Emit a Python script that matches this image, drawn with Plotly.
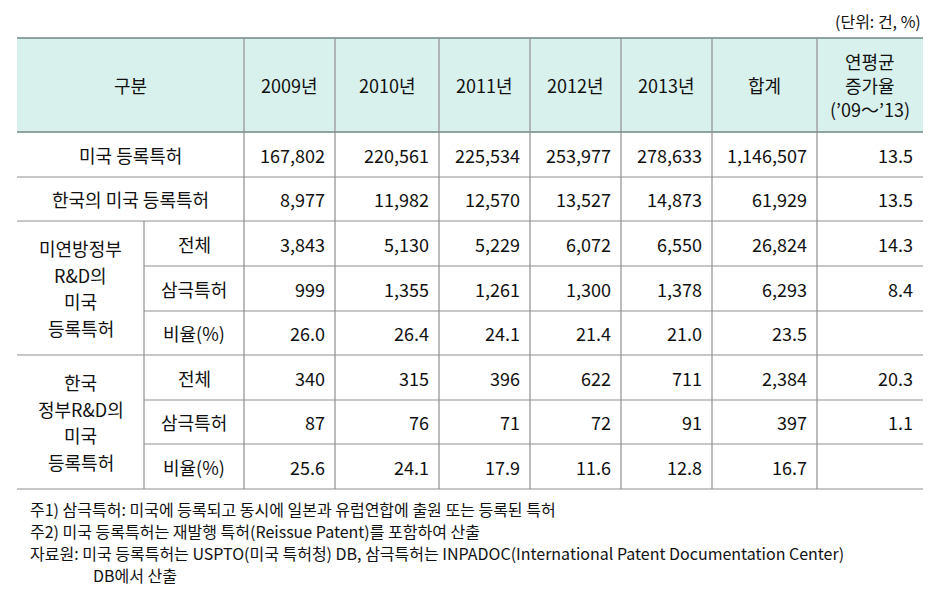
import plotly.graph_objects as go

# ---------------- data ----------------
header_labels = ["구분", "2009년", "2010년", "2011년", "2012년", "2013년", "합계", "연평균<br>증가율<br>(’09〜’13)"]
unit_label = "(단위: 건, %)"

row_labels = ["미국 등록특허", "한국의 미국 등록특허"]
group_labels = ["미연방정부<br>R&D의<br>미국<br>등록특허", "한국<br>정부R&D의<br>미국<br>등록특허"]
sub_labels = ["전체", "삼극특허", "비율(%)"]

us_patents = [167802, 220561, 225534, 253977, 278633]
us_patents_total = 1146507
us_patents_cagr = 13.5

kr_us_patents = [8977, 11982, 12570, 13527, 14873]
kr_us_patents_total = 61929
kr_us_patents_cagr = 13.5

usfed_total = [3843, 5130, 5229, 6072, 6550]
usfed_total_sum = 26824
usfed_total_cagr = 14.3
usfed_triadic = [999, 1355, 1261, 1300, 1378]
usfed_triadic_sum = 6293
usfed_triadic_cagr = 8.4
usfed_ratio = [26.0, 26.4, 24.1, 21.4, 21.0]
usfed_ratio_sum = 23.5

krgov_total = [340, 315, 396, 622, 711]
krgov_total_sum = 2384
krgov_total_cagr = 20.3
krgov_triadic = [87, 76, 71, 72, 91]
krgov_triadic_sum = 397
krgov_triadic_cagr = 1.1
krgov_ratio = [25.6, 24.1, 17.9, 11.6, 12.8]
krgov_ratio_sum = 16.7

notes = [
    "주1) 삼극특허: 미국에 등록되고 동시에 일본과 유럽연합에 출원 또는 등록된 특허",
    "주2) 미국 등록특허는 재발행 특허(Reissue Patent)를 포함하여 산출",
    "자료원: 미국 등록특허는 USPTO(미국 특허청) DB, 삼극특허는 INPADOC(International Patent Documentation Center)",
    "DB에서 산출",
]

# ---------------- layout geometry ----------------
# page body has an 8px margin: the figure is sized so that data coords equal page pixels
W, H = 947, 612
OFF = 8
FONT = "Noto Sans CJK KR, Noto Sans, sans-serif"
TXT = "#111111"
HEADER_FILL = "#d9f1ec"
LINE = "#8f8f8f"
DARK_LINE = "#6d8784"

col_x = [17, 144, 244, 335, 439, 530, 621, 712, 817, 923]  # boundaries
header_top, header_bot = 38, 132
row_y = [132, 177, 221, 266, 311, 355, 400, 444, 489]

fig = go.Figure()
shapes = []
ann = []


def line(x0, y0, x1, y1, color=LINE, w=1.2):
    shapes.append(dict(type="line", xref="x", yref="y", x0=x0, y0=y0, x1=x1, y1=y1,
                       line=dict(color=color, width=w)))


def text(x, y, s, anchor="center", size=18, color=TXT, yanchor="middle", align="center"):
    ann.append(dict(x=x, y=y, xref="x", yref="y", text=s, showarrow=False,
                    xanchor=anchor, yanchor=yanchor, align=align,
                    font=dict(family=FONT, size=size, color=color)))


# header background
shapes.append(dict(type="rect", xref="x", yref="y", x0=col_x[0], x1=col_x[-1],
                   y0=header_top, y1=header_bot, fillcolor=HEADER_FILL,
                   line=dict(width=0), layer="below"))

# horizontal lines
line(col_x[0], header_top, col_x[-1], header_top, DARK_LINE, 1.6)
line(col_x[0], header_bot, col_x[-1], header_bot, DARK_LINE, 1.4)
for i, y in enumerate(row_y[1:], start=1):
    if i in (3, 4, 6, 7):
        line(col_x[1], y, col_x[-1], y)
    else:
        line(col_x[0], y, col_x[-1], y)

# vertical lines
for x in col_x[2:-1]:
    line(x, header_top, x, row_y[-1])
line(col_x[1], row_y[2], col_x[1], row_y[-1])

# header text
header_centers = [(col_x[0] + col_x[2]) / 2] + [(col_x[i] + col_x[i + 1]) / 2 for i in range(2, 9)]
hc = (header_top + header_bot) / 2
for cx, lab in zip(header_centers, header_labels):
    parts = lab.split("<br>")
    lh = 24
    for k, p in enumerate(parts):
        text(cx, hc + (k - (len(parts) - 1) / 2) * lh, p)

text(923, 21, unit_label, anchor="right", size=16)


def fmt(v, dec):
    if v is None:
        return ""
    return f"{v:.1f}" if dec else f"{v:,}"


rows = [
    (us_patents, us_patents_total, us_patents_cagr, False),
    (kr_us_patents, kr_us_patents_total, kr_us_patents_cagr, False),
    (usfed_total, usfed_total_sum, usfed_total_cagr, False),
    (usfed_triadic, usfed_triadic_sum, usfed_triadic_cagr, False),
    (usfed_ratio, usfed_ratio_sum, None, True),
    (krgov_total, krgov_total_sum, krgov_total_cagr, False),
    (krgov_triadic, krgov_triadic_sum, krgov_triadic_cagr, False),
    (krgov_ratio, krgov_ratio_sum, None, True),
]

PAD = 8
for r, (vals, tot, cagr, dec) in enumerate(rows):
    cy = (row_y[r] + row_y[r + 1]) / 2
    cells = [fmt(v, dec) for v in vals] + [fmt(tot, dec), fmt(cagr, True)]
    for c, s in enumerate(cells):
        text(col_x[c + 3] - PAD, cy, s, anchor="right")

# row labels
for r, lab in enumerate(row_labels):
    cy = (row_y[r] + row_y[r + 1]) / 2
    text((col_x[0] + col_x[2]) / 2, cy, lab)

for g, lab in enumerate(group_labels):
    y0, y1 = row_y[2 + 3 * g], row_y[5 + 3 * g]
    cy = (y0 + y1) / 2
    parts = lab.split("<br>")
    lh = 26.5
    for k, p in enumerate(parts):
        text((col_x[0] + col_x[1]) / 2, cy + (k - (len(parts) - 1) / 2) * lh, p)
    for k, s in enumerate(sub_labels):
        ry = (row_y[2 + 3 * g + k] + row_y[3 + 3 * g + k]) / 2
        text((col_x[1] + col_x[2]) / 2, ry, s)

# notes
note_y = [509, 531, 553, 575]
note_x = [28, 28, 28, 91]
for x, y, s in zip(note_x, note_y, notes):
    text(x, y, s, anchor="left", size=16)

fig.update_layout(
    width=W - 2 * OFF, height=H - 2 * OFF,
    margin=dict(l=0, r=0, t=0, b=0),
    paper_bgcolor="white", plot_bgcolor="white",
    xaxis=dict(range=[OFF, W - OFF], visible=False, fixedrange=True),
    yaxis=dict(range=[H - OFF, OFF], visible=False, fixedrange=True),
    shapes=shapes, annotations=ann, showlegend=False,
)
fig.write_html("out.html")
